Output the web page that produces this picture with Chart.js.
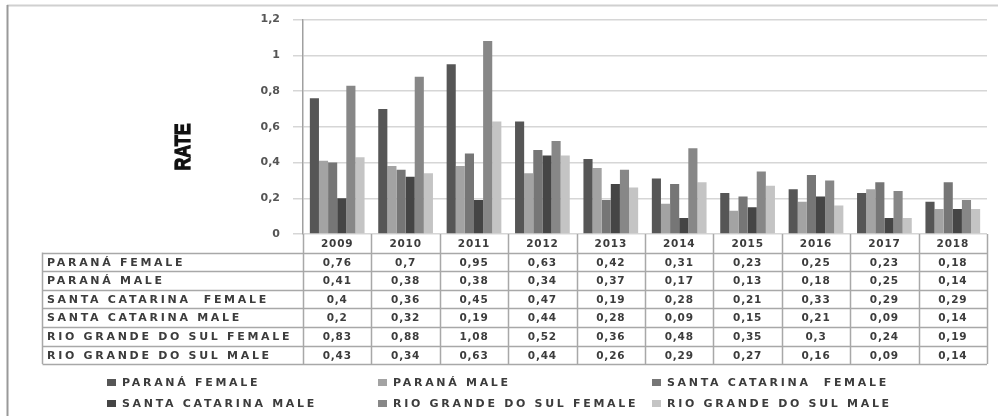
<!DOCTYPE html>
<html>
<head>
<meta charset="utf-8">
<script src="https://cdn.jsdelivr.net/npm/chart.js@4.4.1/dist/chart.umd.min.js"></script>
<style>
  body { margin: 0; background: #fff; }
  canvas { display: block; }
</style>
</head>
<body>
<canvas id="rate-chart" width="998" height="416"></canvas>
<script>
const years = ['2009', '2010', '2011', '2012', '2013', '2014', '2015', '2016', '2017', '2018'];
const seriesNames = ['PARANÁ FEMALE', 'PARANÁ MALE', 'SANTA CATARINA  FEMALE', 'SANTA CATARINA MALE', 'RIO GRANDE DO SUL FEMALE', 'RIO GRANDE DO SUL MALE'];
const paranaFemale = [0.76, 0.7, 0.95, 0.63, 0.42, 0.31, 0.23, 0.25, 0.23, 0.18];
const paranaMale = [0.41, 0.38, 0.38, 0.34, 0.37, 0.17, 0.13, 0.18, 0.25, 0.14];
const scFemale = [0.4, 0.36, 0.45, 0.47, 0.19, 0.28, 0.21, 0.33, 0.29, 0.29];
const scMale = [0.2, 0.32, 0.19, 0.44, 0.28, 0.09, 0.15, 0.21, 0.09, 0.14];
const rgsFemale = [0.83, 0.88, 1.08, 0.52, 0.36, 0.48, 0.35, 0.3, 0.24, 0.19];
const rgsMale = [0.43, 0.34, 0.63, 0.44, 0.26, 0.29, 0.27, 0.16, 0.09, 0.14];
const yTickLabels = ['0', '0,2', '0,4', '0,6', '0,8', '1', '1,2'];
const colors = ['#565656', '#a3a3a3', '#767676', '#454545', '#878787', '#c4c4c4'];

const seriesValues = [paranaFemale, paranaMale, scFemale, scMale, rgsFemale, rgsMale];

function fmt(v) {
    return String(v).replace('.', ',');
}

// draws frame, axis title, data table and legend
const extrasPlugin = {
    id: 'extras',
    beforeDraw(chart) {
        const ctx = chart.ctx;
        ctx.save();
        ctx.fillStyle = '#fff';
        ctx.fillRect(0, 0, chart.width, chart.height);
        ctx.strokeStyle = '#d0d0d0';
        ctx.lineWidth = 2;
        ctx.beginPath();
        ctx.moveTo(7, 5.5);
        ctx.lineTo(chart.width, 5.5);
        ctx.stroke();
        ctx.strokeStyle = '#999';
        ctx.beginPath();
        ctx.moveTo(7.5, 5);
        ctx.lineTo(7.5, chart.height);
        ctx.stroke();
        ctx.restore();
    },
    afterDraw(chart) {
        const ctx = chart.ctx;
        const area = chart.chartArea;
        const x = chart.scales.x;
        const colW = (area.right - area.left) / years.length;

        // RATE title, heavy condensed look
        ctx.save();
        ctx.translate(184, 147);
        ctx.rotate(-Math.PI / 2);
        ctx.scale(0.74, 0.95);
        ctx.font = 'bold 24px "Liberation Sans", sans-serif';
        ctx.fillStyle = '#111';
        ctx.strokeStyle = '#111';
        ctx.lineWidth = 1.4;
        ctx.textAlign = 'center';
        ctx.textBaseline = 'middle';
        ctx.fillText('RATE', 0, 0);
        ctx.strokeText('RATE', 0, 0);
        ctx.restore();

        // table
        const top = area.bottom;
        const headH = 18.5;
        const rowH = 18.6;
        const tableLeft = 42.5;
        const bottom = top + headH + rowH * seriesNames.length;
        ctx.save();
        ctx.strokeStyle = '#a8a8a8';
        ctx.lineWidth = 1.5;
        ctx.beginPath();
        for (let i = 0; i <= years.length; i++) {
            const cx = Math.round(area.left + i * colW) + 0.5;
            ctx.moveTo(cx, top);
            ctx.lineTo(cx, bottom);
        }
        ctx.moveTo(tableLeft, top + headH);
        ctx.lineTo(tableLeft, bottom);
        for (let r = 0; r <= seriesNames.length; r++) {
            const ry = Math.round(top + headH + r * rowH) + 0.5;
            ctx.moveTo(tableLeft, ry);
            ctx.lineTo(area.right, ry);
        }
        ctx.stroke();

        ctx.fillStyle = '#3c3c3c';
        ctx.textBaseline = 'middle';
        ctx.font = 'bold 10.5px "DejaVu Sans", sans-serif';
        ctx.letterSpacing = '0.8px';
        ctx.textAlign = 'center';
        years.forEach((yr, i) => {
            ctx.fillText(yr, x.getPixelForValue(i), top + headH / 2 + 1);
        });
        seriesValues.forEach((vals, r) => {
            const ry = top + headH + r * rowH + rowH / 2 + 1;
            vals.forEach((v, i) => {
                ctx.fillText(fmt(v), x.getPixelForValue(i), ry);
            });
        });
        ctx.textAlign = 'left';
        ctx.font = 'bold 11px "DejaVu Sans", sans-serif';
        ctx.letterSpacing = '2.7px';
        seriesNames.forEach((name, r) => {
            const ry = top + headH + r * rowH + rowH / 2 + 1;
            ctx.fillText(name, 47, ry);
        });

        // legend
        const legX = [107, 378, 652];
        const legY = [383, 404];
        seriesNames.forEach((name, k) => {
            const lx = legX[k % 3];
            const ly = legY[Math.floor(k / 3)];
            ctx.fillStyle = colors[k];
            ctx.fillRect(lx, ly - 4, 9, 7);
            ctx.fillStyle = '#3c3c3c';
            ctx.fillText(name, lx + 15, ly + 0.5);
        });
        ctx.restore();
    }
};

const chart = new Chart(document.getElementById('rate-chart').getContext('2d'), {
    type: 'bar',
    data: {
        labels: years,
        datasets: seriesNames.map((name, k) => ({
            label: name,
            data: seriesValues[k],
            backgroundColor: colors[k],
            barPercentage: 1,
            categoryPercentage: 0.8
        }))
    },
    options: {
        responsive: false,
        animation: false,
        layout: { padding: { left: 8, right: 11, top: 18, bottom: 182 } },
        plugins: {
            legend: { display: false },
            tooltip: { enabled: false }
        },
        scales: {
            x: { display: false },
            y: {
                min: 0,
                max: 1.2,
                afterFit: function(scale) { scale.width = 295; },
                ticks: {
                    stepSize: 0.2,
                    padding: 13,
                    color: '#555',
                    font: { family: '"DejaVu Sans", sans-serif', size: 11, weight: 'bold' },
                    callback: function(value, index) { return yTickLabels[index]; }
                },
                grid: { color: '#d6d6d6', lineWidth: 1.5, tickLength: 10 },
                border: { color: '#a0a0a0', width: 1.5 }
            }
        }
    },
    plugins: [extrasPlugin]
});
</script>
</body>
</html>
